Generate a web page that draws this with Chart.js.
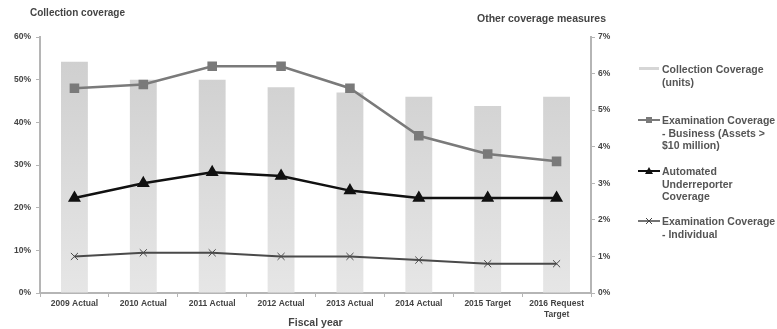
<!DOCTYPE html>
<html>
<head>
<meta charset="utf-8">
<script src="https://cdn.jsdelivr.net/npm/chart.js@4.4.1/dist/chart.umd.min.js"></script>
<style>
    body { margin: 0; background: #fff; font-family: "Liberation Sans", Arial, sans-serif; }
    #wrap { position: relative; width: 777px; height: 329px; }
    .ttl { position: absolute; font-weight: bold; font-size: 10px; color: #444; white-space: nowrap; }
    .lg { position: absolute; left: 638px; font-size: 10.5px; font-weight: bold; color: #555; line-height: 12.5px; white-space: nowrap; padding-left: 24px; }
    .lg svg { position: absolute; left: 0; top: 2px; }
</style>
</head>
<body>
<div id="wrap">
    <canvas id="chart" width="777" height="329"></canvas>
    <div class="ttl" style="left:30px; top:7px;">Collection coverage</div>
    <div class="ttl" style="left:477px; top:12px; font-size:10.5px;">Other coverage measures</div>
    <div class="lg" style="top:63px;"><svg width="22" height="8"><rect x="1" y="2" width="20" height="3" fill="#d6d6d6"/></svg>Collection Coverage<br>(units)</div>
    <div class="lg" style="top:114px;"><svg width="22" height="8"><line x1="0" y1="4" x2="22" y2="4" stroke="#7a7a7a" stroke-width="2"/><rect x="8" y="1" width="6" height="6" fill="#7a7a7a"/></svg>Examination Coverage<br>- Business (Assets &gt;<br>$10 million)</div>
    <div class="lg" style="top:165px;"><svg width="22" height="8"><line x1="0" y1="4" x2="22" y2="4" stroke="#111" stroke-width="2"/><polygon points="11,0 15,7 7,7" fill="#111"/></svg>Automated<br>Underreporter<br>Coverage</div>
    <div class="lg" style="top:215px;"><svg width="22" height="8"><line x1="0" y1="4" x2="22" y2="4" stroke="#444" stroke-width="1.5"/><line x1="8" y1="1" x2="14" y2="7" stroke="#444"/><line x1="14" y1="1" x2="8" y2="7" stroke="#444"/></svg>Examination Coverage<br>- Individual</div>
</div>
<script>
    const categories = ['2009 Actual', '2010 Actual', '2011 Actual', '2012 Actual', '2013 Actual', '2014 Actual', '2015 Target', ['2016 Request', 'Target']];
    const collectionCoverage = [54.2, 50, 50, 48.2, 47, 46, 43.8, 46];
    const examBusiness = [5.6, 5.7, 6.2, 6.2, 5.6, 4.3, 3.8, 3.6];
    const automatedUnderreporter = [2.6, 3.0, 3.3, 3.2, 2.8, 2.6, 2.6, 2.6];
    const examIndividual = [1.0, 1.1, 1.1, 1.0, 1.0, 0.9, 0.8, 0.8];
    const leftTicks = [0, 10, 20, 30, 40, 50, 60];
    const rightTicks = [0, 1, 2, 3, 4, 5, 6, 7];

    const tickFont = { family: '"Liberation Sans", Arial, sans-serif', size: 8.5, weight: 'bold' };
    const axisGray = '#b5b5b5';

    // light gray bars, fading toward the bottom
    function barFill(context) {
        const area = context.chart.chartArea;
        if (!area) return '#d8d8d8';
        const g = context.chart.ctx.createLinearGradient(0, area.top, 0, area.bottom);
        g.addColorStop(0, '#cdcdcd');
        g.addColorStop(1, '#e6e6e6');
        return g;
    }

    const ctx = document.getElementById('chart');
    new Chart(ctx, {
        type: 'bar',
        data: {
            labels: categories,
            datasets: [
                {
                    type: 'line',
                    label: 'Examination Coverage - Business (Assets > $10 million)',
                    data: examBusiness,
                    yAxisID: 'y1',
                    borderColor: '#7a7a7a',
                    backgroundColor: '#7a7a7a',
                    borderWidth: 2.5,
                    pointStyle: 'rect',
                    pointRadius: 5,
                    tension: 0
                },
                {
                    type: 'line',
                    label: 'Automated Underreporter Coverage',
                    data: automatedUnderreporter,
                    yAxisID: 'y1',
                    borderColor: '#111',
                    backgroundColor: '#111',
                    borderWidth: 2.5,
                    pointStyle: 'triangle',
                    pointRadius: 5,
                    tension: 0
                },
                {
                    type: 'line',
                    label: 'Examination Coverage - Individual',
                    data: examIndividual,
                    yAxisID: 'y1',
                    borderColor: '#4a4a4a',
                    backgroundColor: '#4a4a4a',
                    borderWidth: 2,
                    pointStyle: 'crossRot',
                    pointRadius: 5,
                    pointBorderWidth: 1,
                    tension: 0
                },
                {
                    label: 'Collection Coverage (units)',
                    data: collectionCoverage,
                    yAxisID: 'y',
                    backgroundColor: barFill,
                    barPercentage: 0.39,
                    categoryPercentage: 1
                }
            ]
        },
        options: {
            responsive: false,
            animation: false,
            layout: { padding: { top: 37, right: 157, left: 0, bottom: 0 } },
            plugins: { legend: { display: false }, tooltip: { enabled: false } },
            scales: {
                x: {
                    grid: { display: true, drawOnChartArea: false, offset: true, tickLength: 4, color: axisGray },
                    border: { color: axisGray, width: 2 },
                    ticks: { font: tickFont, color: '#444', maxRotation: 0, autoSkip: false, padding: 2 },
                    title: { display: true, text: 'Fiscal year', font: { family: '"Liberation Sans", Arial, sans-serif', size: 10.5, weight: 'bold' }, color: '#444', padding: { top: 1, bottom: 0 } },
                    afterFit: function (scale) { scale.height = 36; }
                },
                y: {
                    position: 'left',
                    min: 0,
                    max: 60,
                    afterBuildTicks: function (scale) { scale.ticks = leftTicks.map(v => ({ value: v })); },
                    grid: { display: true, drawOnChartArea: false, tickLength: 4, color: axisGray },
                    border: { color: axisGray, width: 2 },
                    ticks: { font: tickFont, color: '#444', padding: 5, callback: v => v + '%' },
                    afterFit: function (scale) { scale.width = 40; }
                },
                y1: {
                    position: 'right',
                    min: 0,
                    max: 7,
                    afterBuildTicks: function (scale) { scale.ticks = rightTicks.map(v => ({ value: v })); },
                    grid: { display: true, drawOnChartArea: false, tickLength: 4, color: axisGray },
                    border: { color: axisGray, width: 2 },
                    ticks: { font: tickFont, color: '#444', padding: 3, callback: v => v + '%' },
                    afterFit: function (scale) { scale.width = 29; }
                }
            }
        }
    });
</script>
</body>
</html>
